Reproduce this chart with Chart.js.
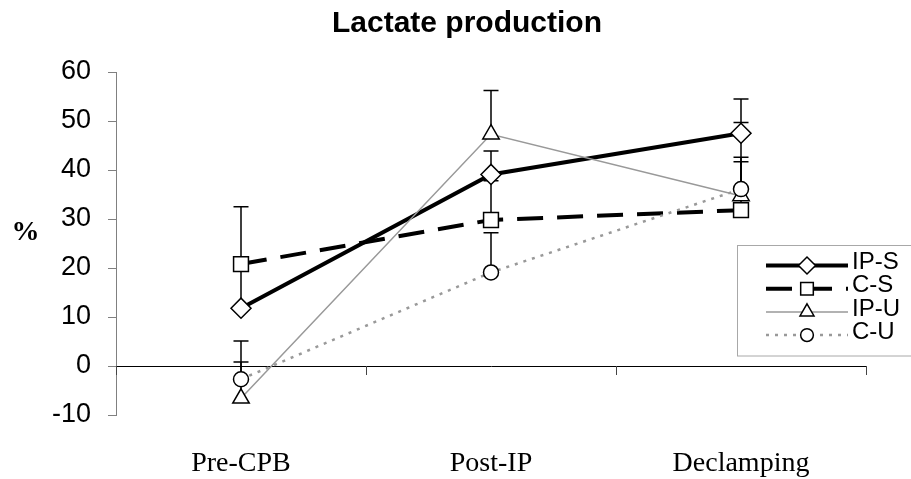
<!DOCTYPE html>
<html>
<head>
<meta charset="utf-8">
<title>Lactate production</title>
<script src="https://cdn.jsdelivr.net/npm/chart.js@4"></script>
<style>
  body { margin: 0; background: #fff; }
  #chart { display: block; }
</style>
</head>
<body>
<canvas id="chart" width="911" height="479"></canvas>
<script>
// Values
const categories = ['Pre-CPB', 'Post-IP', 'Declamping'];
const yTicks = [-10, 0, 10, 20, 30, 40, 50, 60];

const ipS = [11.8, 39.1, 47.5];
const ipSErr = [8.5, 4.8, 7.0];
const cS = [20.8, 29.8, 31.8];
const cSErr = [11.7, 8.0, 9.9];
const ipU = [-6.6, 47.3, 34.7];
const ipUErr = [7.4, 8.9, 7.9];
const cU = [-2.7, 19.1, 36.1];
const cUErr = [7.8, 8.1, 13.6];

const seriesNames = ['IP-S', 'C-S', 'IP-U', 'C-U'];
const errors = [ipSErr, cSErr, ipUErr, cUErr];

// draw a marker (own helper, so the legend does not depend on Chart.helpers)
function marker(ctx, style, r, x, y) {
  ctx.beginPath();
  if (style === 'rectRot') {
    ctx.moveTo(x - r, y); ctx.lineTo(x, y - r); ctx.lineTo(x + r, y); ctx.lineTo(x, y + r);
    ctx.closePath();
  } else if (style === 'rect') {
    const s = Math.SQRT1_2 * r;
    ctx.rect(x - s, y - s, 2 * s, 2 * s);
  } else if (style === 'triangle') {
    ctx.moveTo(x, y - r);
    ctx.lineTo(x + Math.sin(2 * Math.PI / 3) * r, y + 0.5 * r);
    ctx.lineTo(x - Math.sin(2 * Math.PI / 3) * r, y + 0.5 * r);
    ctx.closePath();
  } else {
    ctx.arc(x, y, r, 0, Math.PI * 2);
  }
  ctx.fill();
  ctx.stroke();
}

// Error bars (plus side only), title, % label, x ticks and legend
const extras = {
  id: 'extras',
  beforeDatasetsDraw(chart) {
    const ctx = chart.ctx;
    const y = chart.scales.y;
    ctx.save();
    ctx.strokeStyle = '#000';
    ctx.lineWidth = 1.5;
    chart.data.datasets.forEach((ds, i) => {
      const meta = chart.getDatasetMeta(i);
      meta.data.forEach((pt, j) => {
        const yTop = y.getPixelForValue(ds.data[j] + errors[i][j]);
        ctx.beginPath();
        ctx.moveTo(pt.x, pt.y);
        ctx.lineTo(pt.x, yTop);
        ctx.moveTo(pt.x - 7.5, yTop);
        ctx.lineTo(pt.x + 7.5, yTop);
        ctx.stroke();
      });
    });
    ctx.restore();
  },
  afterDraw(chart) {
    const ctx = chart.ctx;
    const x = chart.scales.x;
    const y = chart.scales.y;
    const area = chart.chartArea;
    ctx.save();

    // category tick marks below the zero line
    const y0 = y.getPixelForValue(0);
    ctx.strokeStyle = '#444';
    ctx.lineWidth = 1;
    const edges = [area.left];
    for (let i = 0; i < categories.length - 1; i++) {
      edges.push((x.getPixelForValue(i) + x.getPixelForValue(i + 1)) / 2);
    }
    edges.push(area.right);
    edges.forEach(px => {
      ctx.beginPath();
      ctx.moveTo(Math.round(px) + 0.5, y0);
      ctx.lineTo(Math.round(px) + 0.5, y0 + 9);
      ctx.stroke();
    });

    // title
    ctx.fillStyle = '#000';
    ctx.font = 'bold 30px "Liberation Sans", Arial, sans-serif';
    ctx.textAlign = 'center';
    ctx.textBaseline = 'alphabetic';
    ctx.fillText('Lactate production', 467, 32);

    // axis unit
    ctx.font = 'bold 28px "Liberation Serif", "Times New Roman", serif';
    ctx.fillText('%', 25.5, 240);

    // legend
    const lx = 737.5, ly = 245.5;
    ctx.fillStyle = '#fff';
    ctx.strokeStyle = '#a8a8a8';
    ctx.lineWidth = 1;
    ctx.fillRect(lx, ly, 200, 110.5);
    ctx.strokeRect(lx, ly, 200, 110.5);

    chart.data.datasets.forEach((ds, i) => {
      const ry = 265.5 + 23.2 * i;
      ctx.save();
      ctx.strokeStyle = ds.borderColor;
      ctx.lineWidth = ds.borderWidth;
      ctx.setLineDash(ds.borderDash || []);
      ctx.beginPath();
      ctx.moveTo(766, ry);
      ctx.lineTo(848, ry);
      ctx.stroke();
      ctx.restore();

      ctx.fillStyle = '#fff';
      ctx.strokeStyle = '#000';
      ctx.lineWidth = 1.5;
      ctx.setLineDash([]);
      marker(ctx, ds.pointStyle, ds.pointRadius * 0.85, 807, ry);

      ctx.fillStyle = '#000';
      ctx.font = '24px "Liberation Sans", Arial, sans-serif';
      ctx.textAlign = 'left';
      ctx.textBaseline = 'middle';
      ctx.fillText(seriesNames[i], 852, ry - 3);
    });
    ctx.restore();
  }
};

const ctx = document.getElementById('chart').getContext('2d');
const chart = new Chart(ctx, {
  type: 'line',
  data: {
    labels: categories,
    datasets: [
      {
        label: seriesNames[0],
        data: ipS,
        borderColor: '#000',
        borderWidth: 4,
        pointStyle: 'rectRot',
        pointRadius: 10,
        order: 4
      },
      {
        label: seriesNames[1],
        data: cS,
        borderColor: '#000',
        borderWidth: 4,
        borderDash: [26, 14],
        pointStyle: 'rect',
        pointRadius: 10.5,
        order: 3
      },
      {
        label: seriesNames[2],
        data: ipU,
        borderColor: '#999',
        borderWidth: 1.5,
        pointStyle: 'triangle',
        pointRadius: 9.5,
        order: 2
      },
      {
        label: seriesNames[3],
        data: cU,
        borderColor: '#999',
        borderWidth: 2.5,
        borderDash: [3, 6],
        pointStyle: 'circle',
        pointRadius: 7.5,
        order: 1
      }
    ].map(ds => Object.assign(ds, {
      pointBackgroundColor: '#fff',
      pointBorderColor: '#000',
      pointBorderWidth: 1.5,
      tension: 0,
      fill: false,
      clip: false
    }))
  },
  options: {
    responsive: false,
    animation: false,
    events: [],
    layout: { padding: { top: 72, right: 45, left: 0, bottom: 0 } },
    plugins: {
      legend: { display: false },
      title: { display: false },
      tooltip: { enabled: false }
    },
    scales: {
      x: {
        type: 'category',
        offset: true,
        grid: { display: false, drawTicks: false },
        border: { display: false },
        ticks: {
          color: '#000',
          padding: 32,
          font: { family: '"Liberation Serif", "Times New Roman", serif', size: 28 }
        },
        afterFit(scale) { scale.height = 64; }
      },
      y: {
        min: -10,
        max: 60,
        afterBuildTicks(scale) { scale.ticks = yTicks.map(v => ({ value: v })); },
        grid: {
          color: c => (c.tick && c.tick.value === 0 ? '#000' : 'rgba(0,0,0,0)'),
          tickColor: '#808080',
          tickLength: 8,
          lineWidth: 1
        },
        border: { color: '#808080', width: 1 },
        ticks: {
          color: '#000',
          padding: 17,
          font: { family: '"Liberation Sans", Arial, sans-serif', size: 27 }
        },
        afterFit(scale) { scale.width = 116; }
      }
    }
  },
  plugins: [extras]
});
</script>
</body>
</html>
